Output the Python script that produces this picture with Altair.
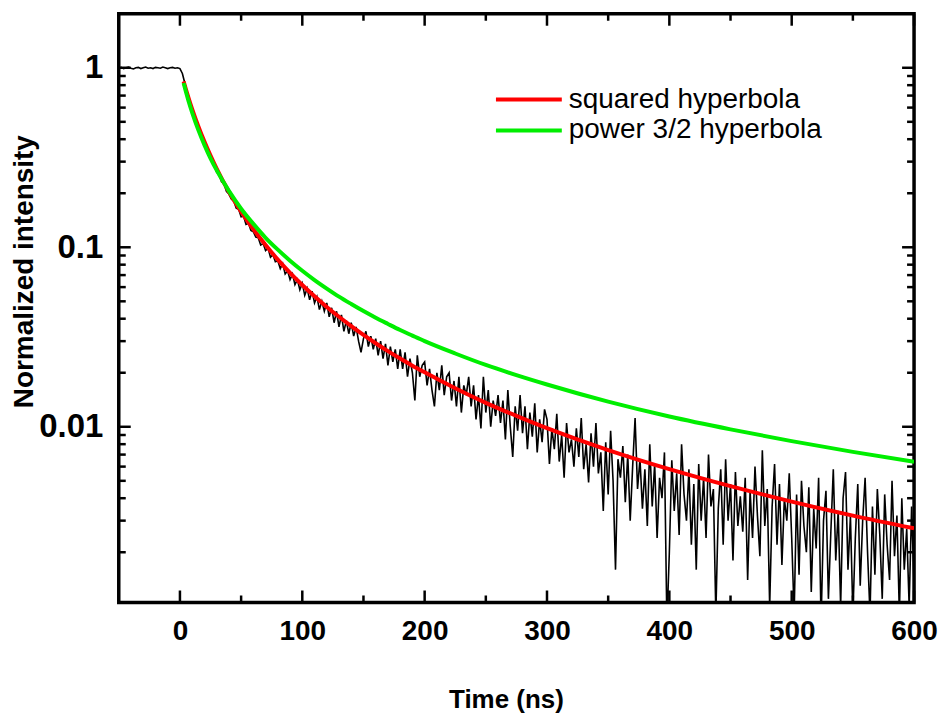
import altair as alt
import pandas as pd

# ---------------- data ----------------
# measured decay, sampled every 2 ns starting at -50 ns
decay_pre = [0.995, 1.005, 0.99, 1.0, 1.01, 0.995, 0.985, 1.0, 1.005, 0.99,
             1.0, 1.01, 0.995, 1.0, 0.99, 1.005, 1.0, 0.995, 1.01, 1.0,
             0.99, 1.0, 1.005, 0.995, 1.0]
decay_post = [
    0.99, 0.93, 0.82, 0.725, 0.65, 0.59, 0.54, 0.49, 0.455, 0.42,
    0.385, 0.352, 0.334, 0.305, 0.29, 0.262, 0.255, 0.232, 0.226, 0.205,
    0.198, 0.186, 0.181, 0.165, 0.163, 0.148, 0.149, 0.134, 0.136, 0.124,
    0.122, 0.114, 0.113, 0.103, 0.105, 0.096, 0.099, 0.088, 0.091, 0.083,
    0.084, 0.076, 0.081, 0.071, 0.074, 0.066, 0.071, 0.062, 0.066, 0.058,
    0.063, 0.054, 0.059, 0.051, 0.057, 0.049, 0.053, 0.045, 0.050, 0.044,
    0.049, 0.041, 0.046, 0.038, 0.044, 0.036, 0.042, 0.034, 0.039, 0.033,
    0.038, 0.032, 0.036, 0.030, 0.026, 0.031, 0.034, 0.028, 0.032, 0.027,
    0.031, 0.025, 0.030, 0.024, 0.029, 0.022, 0.028, 0.023, 0.027, 0.021,
    0.027, 0.021, 0.026, 0.019, 0.024, 0.020, 0.014, 0.025, 0.019, 0.022,
    0.023, 0.017, 0.021, 0.016, 0.013, 0.020, 0.016, 0.022, 0.015, 0.019,
    0.020, 0.014, 0.018, 0.013, 0.019, 0.012, 0.017, 0.015, 0.019, 0.013,
    0.017, 0.011, 0.015, 0.0098, 0.019, 0.012, 0.016, 0.010, 0.014, 0.0115,
    0.015, 0.0105, 0.014, 0.0085, 0.016, 0.010, 0.0068, 0.013, 0.0095, 0.015,
    0.0092, 0.013, 0.0075, 0.012, 0.0088, 0.0135, 0.0072, 0.011, 0.0082, 0.0125,
    0.0110, 0.0062, 0.0098, 0.0075, 0.0118, 0.0064, 0.0090, 0.0052, 0.0105, 0.0072,
    0.0085, 0.0060, 0.0098, 0.0068, 0.0112, 0.0058, 0.0080, 0.0049, 0.0092, 0.0060,
    0.0105, 0.0055, 0.0072, 0.0034, 0.0082, 0.0042, 0.0095, 0.0050, 0.0016, 0.0066,
    0.0052, 0.0078, 0.0038, 0.0070, 0.0030, 0.0060, 0.0112, 0.0045, 0.0066, 0.0035,
    0.0058, 0.0028, 0.0080, 0.0036, 0.0062, 0.0024, 0.0052, 0.0040, 0.0072, 0.0008,
    0.0020, 0.0065, 0.0034, 0.0055, 0.0025, 0.0080, 0.0042, 0.0030, 0.0058, 0.0022,
    0.0048, 0.0016, 0.0062, 0.0030, 0.0052, 0.0024, 0.0070, 0.0036, 0.0045, 0.0009,
    0.0035, 0.0058, 0.0022, 0.0066, 0.0030, 0.0048, 0.0018, 0.0056, 0.0028, 0.0041,
    0.0026, 0.0052, 0.0014, 0.0044, 0.0024, 0.0060, 0.0032, 0.0019, 0.0074, 0.0028,
    0.0045, 0.0010, 0.0036, 0.0062, 0.0022, 0.0048, 0.0017, 0.0040, 0.0030, 0.0055,
    0.0024, 0.0009, 0.0042, 0.0015, 0.0050, 0.0028, 0.0020, 0.0046, 0.0012, 0.0035,
    0.0021, 0.0052, 0.0008, 0.0030, 0.0044, 0.0011, 0.0026, 0.0058, 0.0018, 0.0034,
    0.0010, 0.0040, 0.0056, 0.0016, 0.0032, 0.0009, 0.0024, 0.0048, 0.0013, 0.0030,
    0.0052, 0.0020, 0.0009, 0.0036, 0.0015, 0.0045, 0.0025, 0.0011, 0.0042, 0.0022,
    0.0014, 0.0050, 0.0019, 0.0032, 0.0009, 0.0040, 0.0016, 0.0027, 0.0010, 0.0036, 0.0013,
]
decay_values = decay_pre + decay_post
decay_time = list(range(-50, -50 + 2 * len(decay_values), 2))

# fitted curves
fit_time = [3, 5, 7, 10, 15, 20, 25, 30,
            40, 50, 60, 70, 80, 90, 100, 110, 120, 130, 140, 150, 160, 170, 180, 190, 200,
            225, 250, 275, 300,
            350, 400, 450, 500, 550, 600]
squared_hyperbola = [0.840, 0.754, 0.681, 0.589, 0.473, 0.388, 0.324, 0.274,
                     0.204, 0.158, 0.126, 0.103, 0.0853, 0.0720, 0.0616, 0.0533, 0.0465,
                     0.0410, 0.0364, 0.0325, 0.0292, 0.0264, 0.0240, 0.0219, 0.0201,
                     0.0164, 0.0136, 0.0115, 0.00982,
                     0.00742, 0.00581, 0.00467, 0.00383, 0.00320, 0.00272]
power32_hyperbola = [0.822, 0.730, 0.654, 0.563, 0.451, 0.372, 0.313, 0.269,
                     0.206, 0.164, 0.135, 0.113, 0.0970, 0.0842, 0.0740, 0.0657, 0.0589,
                     0.0531, 0.0483, 0.0441, 0.0405, 0.0374, 0.0346, 0.0322, 0.0300,
                     0.0256, 0.0221, 0.0194, 0.0172,
                     0.0138, 0.0114, 0.00967, 0.00832, 0.00725, 0.00639]
series_names = ["squared hyperbola", "power 3/2 hyperbola"]
series_colors = ["#ff0000", "#00ee00"]

x_major = [0, 100, 200, 300, 400, 500, 600]
x_minor = [50, 150, 250, 350, 450, 550]
y_major = [1, 0.1, 0.01]
y_minor = [0.002, 0.003, 0.004, 0.005, 0.006, 0.007, 0.008, 0.009,
           0.02, 0.03, 0.04, 0.05, 0.06, 0.07, 0.08, 0.09,
           0.2, 0.3, 0.4, 0.5, 0.6, 0.7, 0.8, 0.9]

# ---------------- chart ----------------
W, H = 797, 590
FONT = "Liberation Sans, Arial, sans-serif"

xscale = alt.Scale(domain=[-50, 600], nice=False, zero=False)
yscale = alt.Scale(type="log", domain=[0.00105, 2], nice=False)

xaxis = alt.Axis(values=x_major, title="Time (ns)", grid=False, domain=False,
                 ticks=False, tickSize=0, labelFont=FONT, labelFontSize=28,
                 labelFontWeight="bold", labelColor="black", labelPadding=15,
                 labelFlush=False, labelOverlap=False,
                 titleFont=FONT, titleFontSize=26, titleFontWeight="bold",
                 titleColor="black", titleX=388, titleY=97,
                 titleBaseline="middle", titleAlign="center")
yaxis = alt.Axis(values=y_major, format="~g", title="Normalized intensity",
                 grid=False, domain=False, ticks=False, tickSize=0,
                 labelFont=FONT, labelFontSize=33, labelFontWeight="bold",
                 labelColor="black", labelPadding=16, labelOverlap=False,
                 titleFont=FONT, titleFontSize=28, titleFontWeight="bold",
                 titleColor="black", titleX=-94, titleY=258, titleAngle=270,
                 titleBaseline="middle", titleAlign="center")

X = lambda f: alt.X(f, scale=xscale, axis=xaxis)
Y = lambda f: alt.Y(f, scale=yscale, axis=yaxis)

decay_df = pd.DataFrame({"time": decay_time, "intensity": decay_values})
decay = alt.Chart(decay_df).mark_line(color="black", strokeWidth=1.6, clip=True).encode(
    x=X("time:Q"), y=Y("intensity:Q"),
)


def fit_layer(values, color):
    df = pd.DataFrame({"time": fit_time, "intensity": values})
    return alt.Chart(df).mark_line(color=color, strokeWidth=4, clip=True,
                                   interpolate="monotone").encode(
        x=X("time:Q"), y=Y("intensity:Q"),
    )


red = fit_layer(squared_hyperbola, series_colors[0])
green = fit_layer(power32_hyperbola, series_colors[1])


def xticks(vals, length, top):
    df = pd.DataFrame({"time": vals})
    y0 = 0 if top else H
    y1 = length if top else H - length
    return alt.Chart(df).mark_rule(color="black", strokeWidth=2.5).encode(
        x=X("time:Q"), y=alt.value(y0), y2=alt.value(y1),
    )


def yticks(vals, length, right):
    df = pd.DataFrame({"intensity": vals})
    x0 = W if right else 0
    x1 = W - length if right else length
    return alt.Chart(df).mark_rule(color="black", strokeWidth=2.5).encode(
        y=Y("intensity:Q"), x=alt.value(x0), x2=alt.value(x1),
    )


tick_layers = [
    xticks(x_major, 12, False), xticks(x_minor, 7, False),
    xticks(x_major, 12, True), xticks(x_minor, 7, True),
    yticks(y_major, 12, False), yticks(y_minor, 7, False),
    yticks(y_major, 12, True), yticks(y_minor, 7, True),
]

legend_layers = []
for i, (name, col) in enumerate(zip(series_names, series_colors)):
    ldf = pd.DataFrame({"label": [name]})
    ly = 86 + 31 * i
    legend_layers.append(
        alt.Chart(ldf).mark_rule(color=col, strokeWidth=4).encode(
            x=alt.value(378), x2=alt.value(444), y=alt.value(ly))
    )
    legend_layers.append(
        alt.Chart(ldf).mark_text(align="left", baseline="middle", font=FONT,
                                 fontSize=28, color="black").encode(
            text="label:N", x=alt.value(451), y=alt.value(ly))
    )

chart = alt.layer(decay, red, green, *tick_layers, *legend_layers).properties(
    width=W, height=H,
    autosize=alt.AutoSizeParams(type="none"),
    padding={"left": 111, "top": 5, "right": 25, "bottom": 110},
).configure_view(stroke="black", strokeWidth=3.5)

chart.save("out.html", embed_options={"renderer": "svg", "actions": False})
